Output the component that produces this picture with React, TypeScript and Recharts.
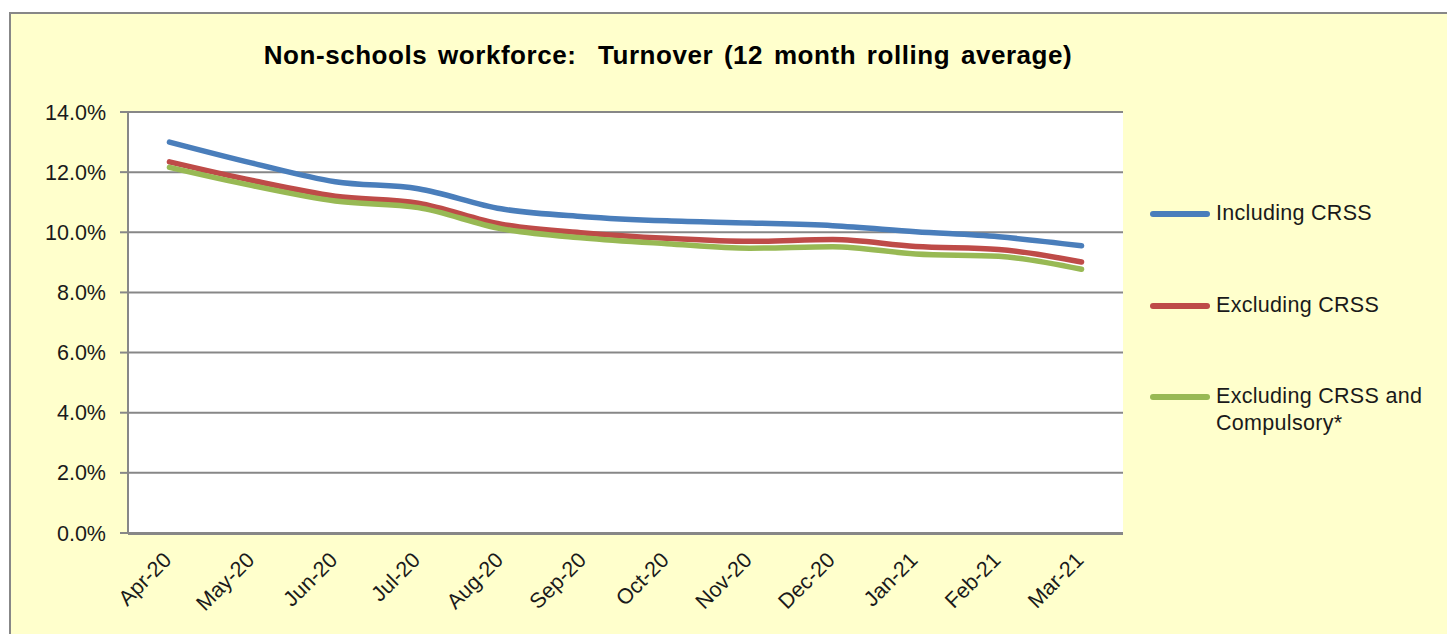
import React from "react";
import { LineChart, Line, XAxis, YAxis, CartesianGrid, Legend } from "recharts";

const months = ["Apr-20", "May-20", "Jun-20", "Jul-20", "Aug-20", "Sep-20", "Oct-20", "Nov-20", "Dec-20", "Jan-21", "Feb-21", "Mar-21"];
const includingCRSS = [13.0, 12.3, 11.68, 11.45, 10.78, 10.52, 10.38, 10.31, 10.22, 10.02, 9.85, 9.55];
const excludingCRSS = [12.34, 11.72, 11.2, 10.97, 10.27, 9.98, 9.8, 9.7, 9.76, 9.53, 9.43, 9.01];
const excludingCRSSCompulsory = [12.16, 11.55, 11.04, 10.82, 10.12, 9.81, 9.62, 9.47, 9.52, 9.28, 9.2, 8.77];
const yTicks = [0, 2, 4, 6, 8, 10, 12, 14];
const boundaryTicks = [0, 1, 2, 3, 4, 5, 6, 7, 8, 9, 10, 11, 12];
const seriesNames = ["Including CRSS", "Excluding CRSS", "Excluding CRSS and Compulsory*"];
const title = "Non-schools workforce:  Turnover (12 month rolling average)";

const data = months.map((m, i) => ({
  month: m,
  inc: includingCRSS[i],
  exc: excludingCRSS[i],
  excComp: excludingCRSSCompulsory[i],
}));

const FONT = "'Liberation Sans', Arial, sans-serif";
const GRAY = "#878787";
const PLOT_W = 995;
const HALF_BAND = PLOT_W / months.length / 2;

const XTick = (props: any) => {
  const { x, y, payload } = props;
  return (
    <g transform={`translate(${x - 2},${y + 23})`}>
      <text
        textAnchor="end"
        transform="rotate(-45)"
        dy="0.35em"
        fontSize={21.5}
        fontFamily={FONT}
        fill="#1a1a1a"
      >
        {payload.value}
      </text>
    </g>
  );
};

const LegendContent = (props: any) => {
  const items = [...(props.payload || [])].sort(
    (a: any, b: any) => seriesNames.indexOf(a.value) - seriesNames.indexOf(b.value)
  );
  return (
    <div style={{ position: "relative", width: 300, height: 240 }}>
      {items.map((e: any, i: number) => (
        <div
          key={i}
          style={{ position: "absolute", top: i * 91.5, left: 0, display: "flex", alignItems: "flex-start" }}
        >
          <div
            style={{ width: 60, height: 6, borderRadius: 3, background: e.color, marginTop: 11, marginRight: 6 }}
          />
          <div
            style={{
              width: 226,
              fontSize: 21.5,
              lineHeight: "27px",
              fontFamily: FONT,
              color: "#1a1a1a",
              letterSpacing: 0.3,
            }}
          >
            {e.value}
          </div>
        </div>
      ))}
    </div>
  );
};

export default function App() {
  return (
    <div style={{ position: "absolute", left: 0, top: 0, width: 1447, height: 634, overflow: "hidden", background: "#fff" }}>
      <div
        style={{
          position: "absolute",
          left: 9,
          top: 12,
          width: 1460,
          height: 660,
          boxSizing: "border-box",
          border: `2px solid ${GRAY}`,
          background: "#FFFFCC",
        }}
      />
      <div
        style={{
          position: "absolute",
          left: 168,
          top: 40,
          width: 1000,
          textAlign: "center",
          fontFamily: FONT,
          fontWeight: "bold",
          fontSize: 26,
          lineHeight: "30px",
          letterSpacing: 0.55,
          wordSpacing: 3,
          whiteSpace: "pre",
          color: "#000",
        }}
      >
        {title}
      </div>
      <div style={{ position: "absolute", left: 11, top: 14 }}>
        <LineChart width={1436} height={616} data={data} margin={{ top: 98, right: 324, bottom: 95, left: 37 }}>
          <CartesianGrid vertical={false} stroke={GRAY} strokeWidth={2} fill="#ffffff" fillOpacity={1} />
          <XAxis
            dataKey="month"
            xAxisId={0}
            height={1}
            padding={{ left: HALF_BAND, right: HALF_BAND }}
            axisLine={false}
            tickLine={false}
            tickSize={0}
            tickMargin={0}
            interval={0}
            tick={<XTick />}
          />
          <XAxis
            xAxisId="grid"
            type="number"
            domain={[0, 12]}
            ticks={boundaryTicks}
            allowDataOverflow
            height={1}
            tick={false}
            tickSize={7}
            axisLine={{ stroke: GRAY, strokeWidth: 2 }}
            tickLine={{ stroke: GRAY, strokeWidth: 2 }}
          />
          <YAxis
            width={80}
            domain={[0, 14]}
            ticks={yTicks}
            interval={0}
            tickFormatter={(v: number) => `${v.toFixed(1)}%`}
            tickSize={8}
            tickMargin={14}
            axisLine={{ stroke: GRAY, strokeWidth: 2 }}
            tickLine={{ stroke: GRAY, strokeWidth: 2 }}
            tick={{ fontSize: 21.5, fontFamily: FONT, fill: "#1a1a1a" }}
          />
          <Legend
            layout="vertical"
            align="center"
            verticalAlign="middle"
            wrapperStyle={{ left: 1139, top: 186, width: 300 }}
            content={<LegendContent />}
          />
          <Line
            type="monotone"
            dataKey="inc"
            name={seriesNames[0]}
            stroke="#4A7EBB"
            strokeWidth={5.5}
            dot={false}
            strokeLinecap="round"
            isAnimationActive={false}
          />
          <Line
            type="monotone"
            dataKey="exc"
            name={seriesNames[1]}
            stroke="#BE4B48"
            strokeWidth={5.5}
            dot={false}
            strokeLinecap="round"
            isAnimationActive={false}
          />
          <Line
            type="monotone"
            dataKey="excComp"
            name={seriesNames[2]}
            stroke="#98B954"
            strokeWidth={5.5}
            dot={false}
            strokeLinecap="round"
            isAnimationActive={false}
          />
        </LineChart>
      </div>
    </div>
  );
}
